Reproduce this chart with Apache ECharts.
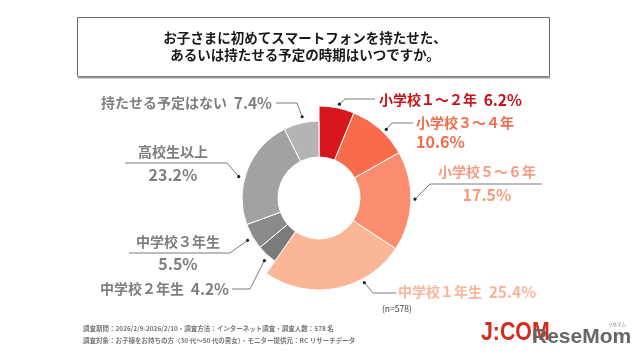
<!DOCTYPE html>
<html><head><meta charset="utf-8">
<script src="https://cdn.jsdelivr.net/npm/echarts@6/dist/echarts.min.js"></script>
<style>html,body{margin:0;padding:0;background:#fff}#c{width:640px;height:360px}</style>
</head><body><div id="c"></div>
<script>
const titleLines = ['お子さまに初めてスマートフォンを持たせた、', 'あるいは持たせる予定の時期はいつですか。'];
const categories = ['小学校１～２年','小学校３～４年','小学校５～６年','中学校１年生','中学校２年生','中学校３年生','高校生以上','持たせる予定はない'];
const values = [6.2, 10.6, 17.5, 25.4, 4.2, 5.5, 23.2, 7.4];
const sampleSize = 578;
const footnotes = [
  '調査期間：2026/2/9-2026/2/10・調査方法：インターネット調査・調査人数：578 名',
  '調査対象：お子様をお持ちの方（30 代～50 代の男女）・モニター提供元：RC リサーチデータ'
];
const logoText = 'J:COM';
const watermarkText = 'ReseMom';
const watermarkKana = 'リセマム';

// styles
const sliceColors = ['#d7161d','#f86b4b','#fa8d70','#fbb597','#7b7b7b','#8a8a8a','#a2a2a2','#b4b4b4'];
const labelColors = ['#c8121a','#f26d4d','#f59c80','#f8b79c','#7f7f7f','#7f7f7f','#7f7f7f','#7f7f7f'];
const isHighlight = [true,true,true,true,false,false,false,false];
const labelPlace = [
  {mode:'inline', x:379, y:100, align:'left',  elbow:[345,99],  end:[375,99],  f:0.55},
  {mode:'stack',  x:416, y1:123, y2:142, align:'left', elbow:[392,123], end:[413,123], f:0.58},
  {mode:'stack',  x:487, y1:172, y2:195, align:'center', elbow:[430,184], end:[542,184], f:0.48},
  {mode:'inline', x:398, y:292, align:'left',  elbow:[373,293], end:[396,293], f:0.31},
  {mode:'inline', x:229, y:289, align:'right', elbow:[250,289], end:[232,289], f:0.41},
  {mode:'stack',  x:178, y1:242, y2:264, align:'center', elbow:[230,253], end:[129,253], f:0.47},
  {mode:'stack',  x:173, y1:152, y2:175, align:'center', elbow:[227,163], end:[125,163], f:0.42},
  {mode:'inline', x:272, y:103, align:'right', elbow:[297,103], end:[276,103], f:0.56}
];
const JP = '"Noto Sans CJK JP", "Noto Sans", sans-serif';

const chart = echarts.init(document.getElementById('c'), null, {renderer:'canvas'});

function pieSeries(outer, showHighlight) {
  return {
    type: 'pie', center: [319, 198], radius: [41, outer], startAngle: 90, clockwise: true,
    silent: true, avoidLabelOverlap: false, animation: false,
    label: {show: false}, labelLine: {show: false}, emphasis: {disabled: true},
    data: categories.map((n, i) => ({
      name: n, value: values[i],
      itemStyle: (isHighlight[i] === showHighlight)
        ? {color: sliceColors[i], borderColor: '#fff', borderWidth: 1}
        : {color: 'rgba(0,0,0,0)', borderWidth: 0}
    }))
  };
}

chart.setOption({
  animation: false,
  backgroundColor: '#fff',
  series: [pieSeries(92, true), pieSeries(77, false)]
});

const g = [];
// title box
g.push({type:'rect', shape:{x:77.5, y:17.5, width:472, height:59}, style:{fill:'#fff', stroke:'#6a6a6a', lineWidth:1}, z:1});
g.push({type:'line', shape:{x1:78, y1:77.5, x2:550, y2:77.5}, style:{stroke:'#9a9a9a', lineWidth:2}, z:1});
titleLines.forEach((t, k) => g.push({type:'text', x:305, y:38 + k*17, z:2,
  style:{text:t, textAlign:'center', textVerticalAlign:'middle', font:'bold 13.5px ' + JP, fill:'#1a1a1a'}}));

// labels, leader lines, dots
const model = chart.getModel();
categories.forEach((name, i) => {
  const p = labelPlace[i];
  const sIdx = isHighlight[i] ? 0 : 1;
  const L = model.getSeriesByIndex(sIdx).getData().getItemLayout(i);
  const a = L.startAngle + p.f * (L.endAngle - L.startAngle);
  const rr = L.r + (isHighlight[i] ? 4 : 6);
  const dot = [L.cx + rr * Math.cos(a), L.cy + rr * Math.sin(a)];
  g.push({type:'polyline', shape:{points:[dot, p.elbow, p.end]}, style:{stroke:'#7a7a7a', lineWidth:1, fill:null}, z:3});
  g.push({type:'circle', shape:{cx:dot[0], cy:dot[1], r:1.6}, style:{fill:'#222'}, z:4});
  const pct = values[i].toFixed(1) + '%';
  const c = labelColors[i];
  if (p.mode === 'inline') {
    g.push({type:'text', x:p.x, y:p.y, z:4, style:{
      text: '{n|' + name + '}  {v|' + pct + '}', align:p.align, verticalAlign:'middle',
      rich:{n:{fontFamily:JP, fontWeight:'bold', fontSize:14, fill:c, color:c},
            v:{fontFamily:JP, fontWeight:'bold', fontSize:15.5, fill:c, color:c}}}});
  } else {
    g.push({type:'text', x:p.x, y:p.y1, z:4, style:{text: name, textAlign:p.align, textVerticalAlign:'middle', font:'bold 14px ' + JP, fill:c}});
    g.push({type:'text', x:p.x, y:p.y2, z:4, style:{text: pct, textAlign:p.align, textVerticalAlign:'middle', font:'bold 16px ' + JP, fill:c}});
  }
});

// n
g.push({type:'text', x:382, y:309, z:4, style:{text:'(n=' + sampleSize + ')', textAlign:'left', textVerticalAlign:'middle', font:'8.5px ' + JP, fill:'#444'}});
// footnotes
footnotes.forEach((t, k) => g.push({type:'text', x:83, y:329 + k*12, z:4,
  style:{text:t, textAlign:'left', textVerticalAlign:'middle', font:'bold 6.5px ' + JP, fill:'#777'}}));
// logos
g.push({type:'text', x:481, y:333, scaleX:0.82, originX:0, originY:0, z:4, style:{text:logoText, textAlign:'left', textVerticalAlign:'middle', font:'bold 26px "Liberation Sans", sans-serif', fill:'#d52b1e'}});
g.push({type:'text', x:532, y:337, z:5, style:{text:watermarkText, textAlign:'left', textVerticalAlign:'middle', font:'bold 21px "Liberation Sans", sans-serif', fill:'#666'}});
g.push({type:'text', x:617, y:324, z:5, style:{text:watermarkKana, textAlign:'center', textVerticalAlign:'middle', font:'4.5px ' + JP, fill:'#777'}});

chart.setOption({graphic: g});
</script>
</body></html>
